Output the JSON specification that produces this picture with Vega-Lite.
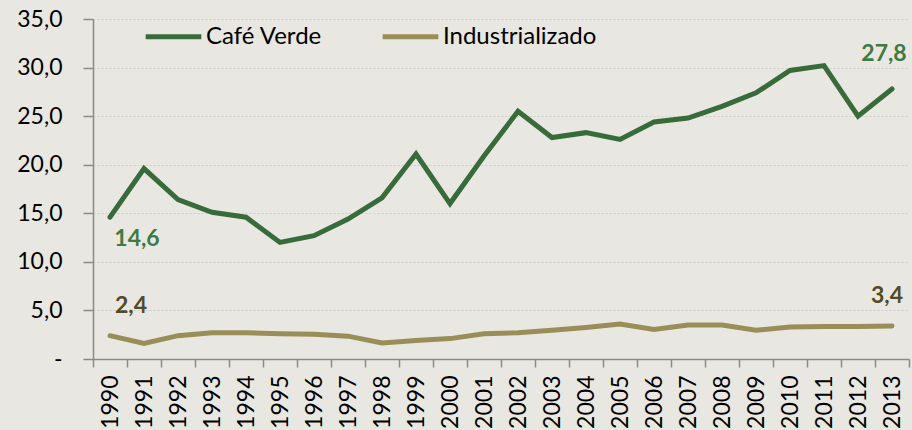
{
  "$schema": "https://vega.github.io/schema/vega-lite/v6.json",
  "width": 816,
  "height": 340,
  "autosize": {"type": "none"},
  "padding": {"left": 93, "top": 19, "right": 3, "bottom": 71},
  "background": "#E9E7E1",
  "config": {"view": {"stroke": null}, "font": "Lato"},
  "data": {
    "values": [
      {"year": "1990", "serie": "Café Verde", "value": 14.6},
      {"year": "1991", "serie": "Café Verde", "value": 19.6},
      {"year": "1992", "serie": "Café Verde", "value": 16.4},
      {"year": "1993", "serie": "Café Verde", "value": 15.1},
      {"year": "1994", "serie": "Café Verde", "value": 14.6},
      {"year": "1995", "serie": "Café Verde", "value": 12.0},
      {"year": "1996", "serie": "Café Verde", "value": 12.7},
      {"year": "1997", "serie": "Café Verde", "value": 14.4},
      {"year": "1998", "serie": "Café Verde", "value": 16.6},
      {"year": "1999", "serie": "Café Verde", "value": 21.1},
      {"year": "2000", "serie": "Café Verde", "value": 16.0},
      {"year": "2001", "serie": "Café Verde", "value": 20.9},
      {"year": "2002", "serie": "Café Verde", "value": 25.5},
      {"year": "2003", "serie": "Café Verde", "value": 22.8},
      {"year": "2004", "serie": "Café Verde", "value": 23.3},
      {"year": "2005", "serie": "Café Verde", "value": 22.6},
      {"year": "2006", "serie": "Café Verde", "value": 24.4},
      {"year": "2007", "serie": "Café Verde", "value": 24.8},
      {"year": "2008", "serie": "Café Verde", "value": 26.0},
      {"year": "2009", "serie": "Café Verde", "value": 27.4},
      {"year": "2010", "serie": "Café Verde", "value": 29.7},
      {"year": "2011", "serie": "Café Verde", "value": 30.2},
      {"year": "2012", "serie": "Café Verde", "value": 25.0},
      {"year": "2013", "serie": "Café Verde", "value": 27.8},
      {"year": "1990", "serie": "Industrializado", "value": 2.4},
      {"year": "1991", "serie": "Industrializado", "value": 1.6},
      {"year": "1992", "serie": "Industrializado", "value": 2.4},
      {"year": "1993", "serie": "Industrializado", "value": 2.7},
      {"year": "1994", "serie": "Industrializado", "value": 2.7},
      {"year": "1995", "serie": "Industrializado", "value": 2.6},
      {"year": "1996", "serie": "Industrializado", "value": 2.55},
      {"year": "1997", "serie": "Industrializado", "value": 2.35},
      {"year": "1998", "serie": "Industrializado", "value": 1.65},
      {"year": "1999", "serie": "Industrializado", "value": 1.9},
      {"year": "2000", "serie": "Industrializado", "value": 2.1},
      {"year": "2001", "serie": "Industrializado", "value": 2.6},
      {"year": "2002", "serie": "Industrializado", "value": 2.7},
      {"year": "2003", "serie": "Industrializado", "value": 2.95},
      {"year": "2004", "serie": "Industrializado", "value": 3.25},
      {"year": "2005", "serie": "Industrializado", "value": 3.6},
      {"year": "2006", "serie": "Industrializado", "value": 3.05},
      {"year": "2007", "serie": "Industrializado", "value": 3.5},
      {"year": "2008", "serie": "Industrializado", "value": 3.5},
      {"year": "2009", "serie": "Industrializado", "value": 2.95},
      {"year": "2010", "serie": "Industrializado", "value": 3.3},
      {"year": "2011", "serie": "Industrializado", "value": 3.35},
      {"year": "2012", "serie": "Industrializado", "value": 3.35},
      {"year": "2013", "serie": "Industrializado", "value": 3.4}
    ]
  },
  "encoding": {
    "x": {
      "field": "year",
      "type": "ordinal",
      "scale": {"type": "band", "paddingInner": 0, "paddingOuter": 0},
      "axis": {
        "title": null,
        "labelAngle": -90,
        "tickBand": "extent",
        "domainColor": "#8a8a8a",
        "domainWidth": 1.5,
        "tickColor": "#8a8a8a",
        "tickWidth": 1.5,
        "tickSize": 8,
        "labelFontSize": 23,
        "labelFont": "Lato",
        "labelColor": "#000000",
        "labelPadding": 8,
        "grid": false
      }
    },
    "y": {
      "field": "value",
      "type": "quantitative",
      "scale": {"domain": [0, 35], "nice": false, "zero": true},
      "axis": {
        "title": null,
        "values": [0, 5, 10, 15, 20, 25, 30, 35],
        "labelExpr": "datum.value == 0 ? '-\u00a0\u00a0\u00a0' : replace(format(datum.value, '.1f'), '.', ',')",
        "grid": true,
        "gridDash": [2, 2],
        "gridColor": "#cfcfcc",
        "gridWidth": 1.2,
        "domainColor": "#8a8a8a",
        "domainWidth": 1.5,
        "tickColor": "#8a8a8a",
        "tickWidth": 1.5,
        "tickSize": 10,
        "labelPadding": 21,
        "labelFontSize": 23,
        "labelFont": "Lato",
        "labelColor": "#000000"
      }
    }
  },
  "layer": [
    {
      "mark": {"type": "line", "strokeWidth": 5, "strokeCap": "round", "strokeJoin": "miter"},
      "encoding": {
        "color": {
          "field": "serie",
          "type": "nominal",
          "scale": {"domain": ["Café Verde", "Industrializado"], "range": ["#386B3A", "#9A8E58"]},
          "legend": {
            "orient": "none",
            "legendX": 50,
            "legendY": -13,
            "direction": "horizontal",
            "title": null,
            "symbolType": "stroke",
            "symbolSize": 3100,
            "symbolStrokeWidth": 5,
            "labelFontSize": 24,
            "labelFont": "Lato",
            "labelColor": "#000000",
            "labelOffset": 2,
            "columnPadding": 49
          }
        }
      }
    },
    {
      "transform": [
        {"filter": "datum.serie == 'Café Verde' && datum.year == '1990'"},
        {"calculate": "replace(format(datum.value, '.1f'), '.', ',')", "as": "label"}
      ],
      "mark": {"type": "text", "fontSize": 23, "fontWeight": "bold", "font": "Lato", "color": "#3F7A42", "dx": 27, "dy": 22},
      "encoding": {"text": {"field": "label"}}
    },
    {
      "transform": [
        {"filter": "datum.serie == 'Café Verde' && datum.year == '2013'"},
        {"calculate": "replace(format(datum.value, '.1f'), '.', ',')", "as": "label"}
      ],
      "mark": {"type": "text", "fontSize": 23, "fontWeight": "bold", "font": "Lato", "color": "#3F7A42", "dx": -8, "dy": -35},
      "encoding": {"text": {"field": "label"}}
    },
    {
      "transform": [
        {"filter": "datum.serie == 'Industrializado' && datum.year == '1990'"},
        {"calculate": "replace(format(datum.value, '.1f'), '.', ',')", "as": "label"}
      ],
      "mark": {"type": "text", "fontSize": 23, "fontWeight": "bold", "font": "Lato", "color": "#524A28", "dx": 21, "dy": -30},
      "encoding": {"text": {"field": "label"}}
    },
    {
      "transform": [
        {"filter": "datum.serie == 'Industrializado' && datum.year == '2013'"},
        {"calculate": "replace(format(datum.value, '.1f'), '.', ',')", "as": "label"}
      ],
      "mark": {"type": "text", "fontSize": 23, "fontWeight": "bold", "font": "Lato", "color": "#524A28", "dx": -5, "dy": -30},
      "encoding": {"text": {"field": "label"}}
    }
  ]
}
